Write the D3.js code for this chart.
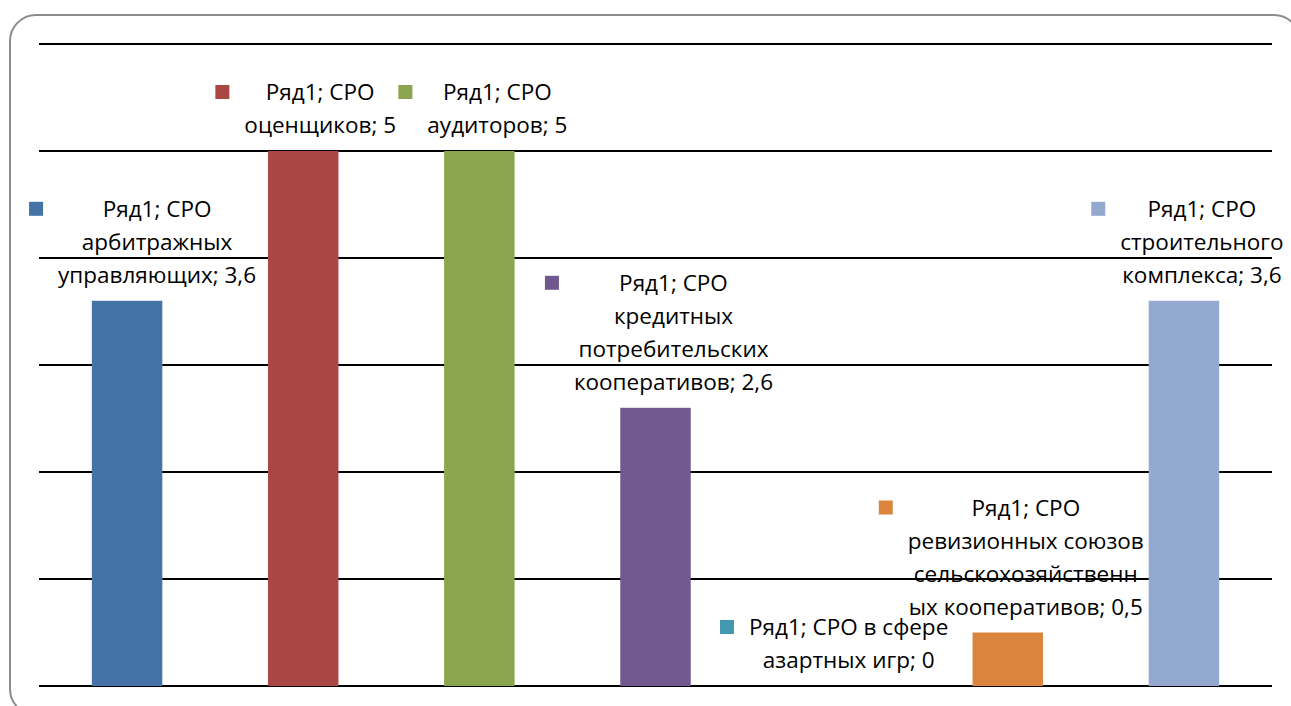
<!DOCTYPE html>
<html lang="ru">
<head>
  <meta charset="UTF-8">
  <title>СРО</title>
  <style>
    body { margin: 0; background: #fff; }
    svg { display: block; }
    .lbl { font-family: "Open Sans", sans-serif; font-size: 22.5px; fill: #000; }
  </style>
</head>
<body>

  <section class="plot"></section>

  <script src="https://cdn.jsdelivr.net/npm/d3@7"></script>
  <script>
    // Data
    const categories = [
      "СРО арбитражных управляющих",
      "СРО оценщиков",
      "СРО аудиторов",
      "СРО кредитных потребительских кооперативов",
      "СРО в сфере азартных игр",
      "СРО ревизионных союзов сельскохозяйственных кооперативов",
      "СРО строительного комплекса"
    ];
    const values = [3.6, 5, 5, 2.6, 0, 0.5, 3.6];
    const seriesName = "Ряд1";
    const yTicks = [0, 1, 2, 3, 4, 5, 6];
    // label text as it is wrapped in the picture
    const labelLines = [
      ["Ряд1; СРО", "арбитражных", "управляющих; 3,6"],
      ["Ряд1; СРО", "оценщиков; 5"],
      ["Ряд1; СРО", "аудиторов; 5"],
      ["Ряд1; СРО", "кредитных", "потребительских", "кооперативов; 2,6"],
      ["Ряд1; СРО в сфере", "азартных игр; 0"],
      ["Ряд1; СРО", "ревизионных союзов", "сельскохозяйственн", "ых кооперативов; 0,5"],
      ["Ряд1; СРО", "строительного", "комплекса; 3,6"]
    ];
    const colors = ["#4572A7", "#AA4643", "#89A54E", "#71588F", "#4198AF", "#DB843D", "#93A9CF"];

    // label shift from bar centre (the first one is pushed in by the left edge)
    const labelShift = [30, 17, 18, 18, 17, 18, 18];

    const W = 1291, H = 706;
    const plot = { left: 39, right: 1272, top: 44, bottom: 686 };
    const lineH = 33;

    const svg = d3.select(".plot")
      .append("svg")
      .attr("width", W)
      .attr("height", H);

    // frame
    svg.append("rect")
      .attr("x", 10).attr("y", 15)
      .attr("width", 1290).attr("height", 700)
      .attr("rx", 26).attr("ry", 26)
      .attr("fill", "#fff")
      .attr("stroke", "#8c8c8c")
      .attr("stroke-width", 2);

    const x = d3.scaleBand()
      .domain(categories)
      .range([plot.left, plot.right])
      .padding(0);

    const y = d3.scaleLinear()
      .domain([0, 6])
      .range([plot.bottom, plot.top]);

    // gridlines
    svg.append("g")
      .selectAll("line")
      .data(yTicks)
      .enter()
      .append("line")
        .attr("x1", plot.left)
        .attr("x2", plot.right)
        .attr("y1", d => y(d))
        .attr("y2", d => y(d))
        .attr("stroke", "#000")
        .attr("stroke-width", 2);

    // bars
    const barW = x.bandwidth() * 0.4;
    svg.append("g")
      .selectAll("rect")
      .data(values)
      .enter()
      .append("rect")
        .attr("x", (d, i) => x(categories[i]) + (x.bandwidth() - barW) / 2)
        .attr("y", d => y(d))
        .attr("width", barW)
        .attr("height", d => y(0) - y(d))
        .attr("fill", (d, i) => colors[i]);

    // data labels with legend keys
    const labels = svg.append("g")
      .selectAll("g")
      .data(values)
      .enter()
      .append("g");

    labels.each(function (d, i) {
      const g = d3.select(this);
      const lines = labelLines[i];
      const cx = x(categories[i]) + x.bandwidth() / 2 + labelShift[i];
      const lastBase = y(d) - 18;
      const firstBase = lastBase - (lines.length - 1) * lineH;

      const t = g.append("text")
        .attr("class", "lbl")
        .attr("text-anchor", "middle");
      lines.forEach((s, k) => {
        t.append("tspan")
          .attr("x", cx)
          .attr("y", firstBase + k * lineH)
          .text(s);
      });

      let maxW = 0;
      t.selectAll("tspan").each(function () {
        maxW = Math.max(maxW, this.getComputedTextLength());
      });

      g.insert("rect", "text")
        .attr("x", cx - maxW / 2 - 29)
        .attr("y", firstBase - 15)
        .attr("width", 14)
        .attr("height", 14)
        .attr("fill", colors[i]);
    });
  </script>
</body>
</html>
